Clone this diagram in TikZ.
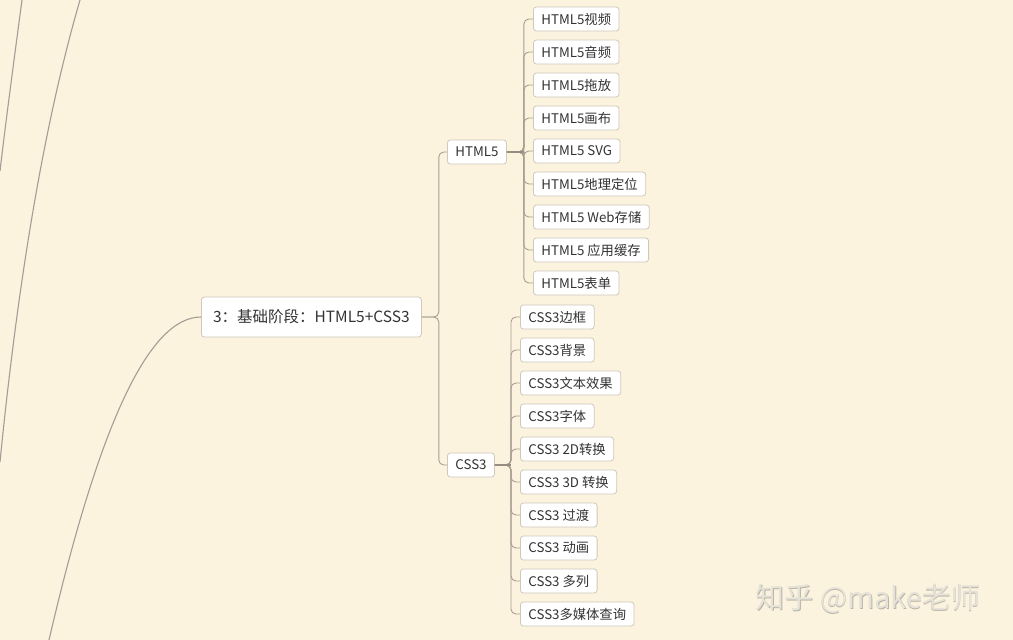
\documentclass[tikz,border=0pt]{standalone}
\usepackage{fontspec}
\setmainfont{Noto Sans CJK SC}
\definecolor{bg}{HTML}{FBF3DE}
\definecolor{nodeborder}{HTML}{CFC8BC}
\definecolor{conn}{HTML}{A79E92}
\definecolor{curve}{HTML}{A39D95}
\definecolor{txt}{HTML}{333333}
\definecolor{wm}{HTML}{E6E2D8}
\definecolor{wmshadow}{HTML}{B9B4AA}
\tikzset{
  box/.style={draw=nodeborder, line width=0.8pt, fill=white, rounded corners=3pt,
    text=txt, inner xsep=8pt, inner ysep=0pt, minimum height=24pt, anchor=west},
  leaf/.style={box, font=\fontsize{13.3}{13.3}\selectfont},
  mid/.style={box, font=\fontsize{13.3}{13.3}\selectfont},
  rootbox/.style={box, font=\fontsize{15.5}{15.5}\selectfont, minimum height=40pt, minimum width=220pt, inner xsep=10pt},
  link/.style={draw=conn, line width=0.9pt, rounded corners=5pt},
  stub/.style={draw=conn!90!black, line width=1.8pt},
  bigcurve/.style={draw=curve, line width=1.1pt},
}
\begin{document}
\begin{tikzpicture}[x=1pt,y=-1pt]
\fill[bg] (0,0) rectangle (1013,640);
\useasboundingbox (0,0) rectangle (1013,640);

% left curves
\draw[bigcurve] (22,0) .. controls (14,60) and (6,120) .. (0,171);
\draw[bigcurve] (80,0) .. controls (48,110) and (20,260) .. (0,462);

% nodes
\node[rootbox] (root) at (201,317) {3：基础阶段：HTML5+CSS3};
\node[mid] (h5) at (447,152) {HTML5};
\node[mid] (c3) at (447,465) {CSS3};

\draw[bigcurve] (root.west) .. controls (150,317) and (100,420) .. (49,640);

\foreach \n/\y/\t in {a/19/HTML5视频, b/52/HTML5音频, c/85/HTML5拖放, d/118/HTML5画布,
  e/151/HTML5 SVG, f/184/HTML5地理定位, g/217/HTML5 Web存储, h/250/HTML5 应用缓存, i/283/HTML5表单}
  {\node[leaf] (h\n) at (533,\y) {\t};}

\foreach \n/\y/\t in {a/317/CSS3边框, b/350/CSS3背景, c/383/CSS3文本效果, d/416/CSS3字体,
  e/449/CSS3 2D转换, f/482/CSS3 3D 转换, g/515/CSS3 过渡, h/548/CSS3 动画, i/581/CSS3 多列, j/614/CSS3多媒体查询}
  {\node[leaf] (c\n) at (520,\y) {\t};}

% root connectors
\draw[link] (root.east) -- ++(17,0) |- (h5.west);
\draw[link] (root.east) -- ++(17,0) |- (c3.west);

% HTML5 leaves
\foreach \n in {a,b,c,d,e,f,g,h,i}
  \draw[link] (h5.east) -- ++(17,0) |- (h\n.west);
\draw[stub] (h5.east) -- ++(17,0);

% CSS3 leaves
\foreach \n in {a,b,c,d,e,f,g,h,i,j}
  \draw[link] (c3.east) -- ++(16,0) |- (c\n.west);
\draw[stub] (c3.east) -- ++(16,0);

% watermark
\node[anchor=west, text=wmshadow, font=\fontsize{29}{29}\selectfont] (wms) at (752.8,599.8) {知乎 @make老师};
\node[anchor=west, text=wm, font=\fontsize{29}{29}\selectfont] (wmt) at (752,599) {知乎 @make老师};
\end{tikzpicture}
\end{document}
